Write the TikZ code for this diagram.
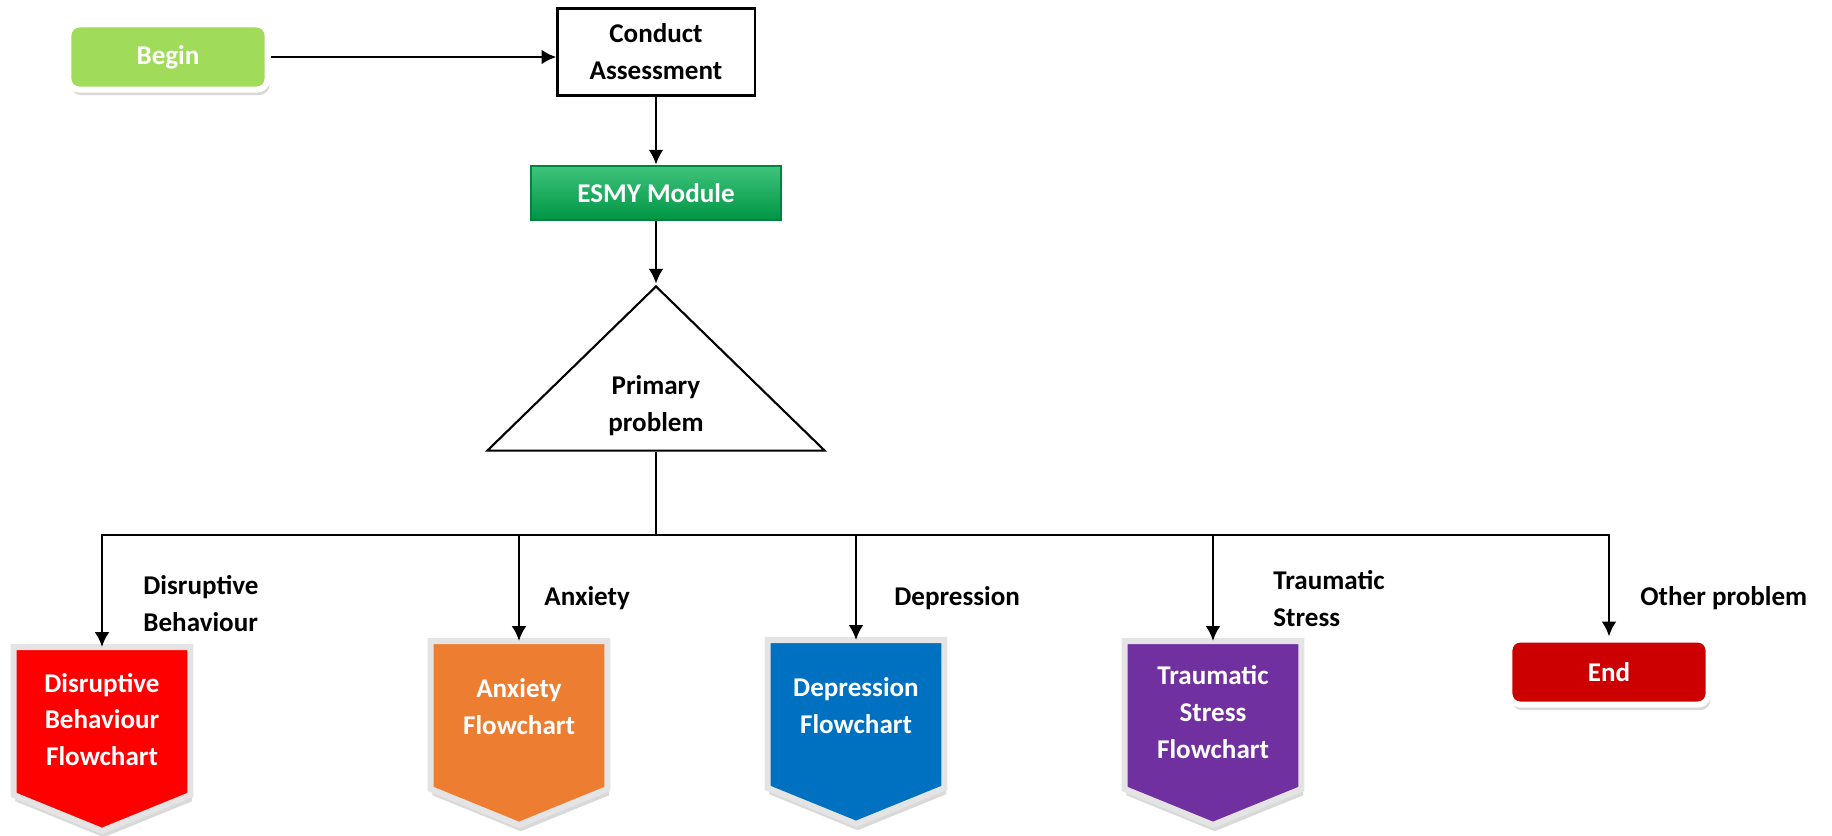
\documentclass[tikz,border=0pt]{standalone}
\usepackage{fontspec}
\setmainfont{Carlito}
\usetikzlibrary{positioning}
\usetikzlibrary{calc}
\usetikzlibrary{arrows.meta}
\usetikzlibrary{shapes, shadows, backgrounds}
\definecolor{begingreen}{HTML}{A0DC5A}
\definecolor{esmygreen}{HTML}{00B050}
\definecolor{disred}{HTML}{FF0000}
\definecolor{anxorange}{HTML}{ED7D31}
\definecolor{depblue}{HTML}{0070C0}
\definecolor{trapurple}{HTML}{7030A0}
\definecolor{endred}{HTML}{CC0000}
\definecolor{flowgrey}{HTML}{E4E4E4}
\tikzset{
	-{Latex[length=4.2pt,width=4.2pt]},
	every path/.style={thick},
	every node/.style={align=center, font=\bfseries\fontsize{7.7}{10.5}\selectfont},
	term/.style={rectangle, rounded corners=3pt, draw=white, line width=0.06cm, text=white, minimum width=1.99cm, minimum height=0.65cm, drop shadow={shadow xshift=0.6pt, shadow yshift=-1.6pt, opacity=0.3}},
	task/.style={rectangle, draw, semithick, fill=white, minimum width=1.97cm, minimum height=0.87cm},
	module/.style={rectangle, text=white, minimum width=2.5cm, minimum height=0.54cm, top color=esmygreen!75!white, middle color=esmygreen, bottom color=esmygreen!85!black, draw=esmygreen!75!black, line width=0.02cm},
	decision/.style={isosceles triangle, isosceles triangle stretches, shape border rotate=90, draw, semithick, minimum width=3.37cm, minimum height=1.64cm, inner sep=0pt},
	flow/.style={rectangle, text=white, minimum width=1.74cm, minimum height=1.45cm, text depth=0.16cm, anchor=north},
	el/.style={anchor=west, align=left, inner sep=0pt}
}

\begin{document}
\begin{tikzpicture}[x=0.01cm, y=-0.01cm]
	\useasboundingbox (0,0) rectangle (1832,835);

	\node (start) [term, fill=begingreen] at (168,57) {Begin};
	\node (cond) [task] at (656,52) {Conduct\\Assessment};
	\node (esmy) [module, below = 0.68cm of cond] {ESMY Module};
	\node (prim) [decision, below = 0.63cm of esmy, anchor=apex] {};
	\node (primtext) at ($(prim.lower side)+(0,-46)$) {Primary\\problem};
	\coordinate (bus) at (656,535);

	\node (dis) [flow, text depth=0.03cm] at (102,647) {Disruptive\\Behaviour\\Flowchart};
	\node (anx) [flow] at (519,641) {Anxiety\\Flowchart};
	\node (dep) [flow] at (856,640) {Depression\\Flowchart};
	\node (tra) [flow, text depth=0.06cm] at (1213,641) {Traumatic\\Stress\\Flowchart};
	\node (stop) [term, fill=endred] at (1609,672) {End};

	\node (l1) [el] at (142,604) {Disruptive\\Behaviour};
	\node (l2) [el] at (543,598) {Anxiety};
	\node (l3) [el] at (893,598) {Depression};
	\node (l4) [el] at (1272,599) {Traumatic\\Stress};
	\node (l5) [el] at (1639,598) {Other problem};

	\begin{scope}[on background layer]
		\foreach \n/\c in {dis/disred, anx/anxorange, dep/depblue, tra/trapurple}
			\filldraw[fill=\c, draw=flowgrey, line width=0.06cm, line join=miter, drop shadow={shadow xshift=0.5pt, shadow yshift=-1.8pt, opacity=0.3}] (\n.north west) -- (\n.north east) -- (\n.south east) -- ($(\n.south)+(0,36)$) -- (\n.south west) -- cycle;
	\end{scope}

	\draw (start) -- (start -| cond.west);
	\draw (cond) -- (esmy);
	\draw (esmy) -- (prim.apex);
	\draw[-] (prim.lower side) -- (bus);
	\draw (bus) -| (dis.north);
	\draw (bus) -| (stop.north);
	\foreach \n in {anx, dep, tra}
		\draw (\n.north |- bus) -- (\n.north);
\end{tikzpicture}
\end{document}
